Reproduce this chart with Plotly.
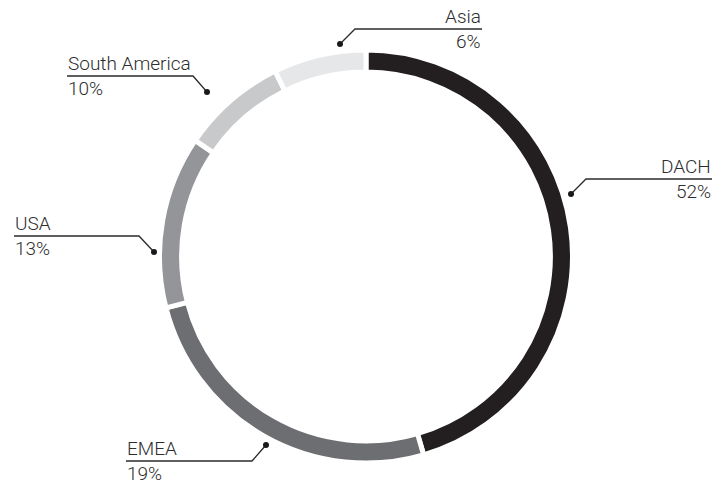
import plotly.graph_objects as go

W, H = 713, 484

# Data (slice sizes read from the drawn arcs; label shares as printed)
regions = ["DACH", "EMEA", "USA", "South America", "Asia"]
arc_values = [45.5, 25.5, 13.5, 8.25, 7.25]
shares = ["52%", "19%", "13%", "10%", "6%"]
colors = ["#231f20", "#6d6e71", "#939598", "#c8c9cb", "#e6e7e8"]

def px(x, y):
    """screen pixel -> paper coords"""
    return x / W, 1 - y / H

cx, cy, R = 366, 256.5, 206.5
x0, y1 = px(cx - R, cy - R)
x1, y0 = px(cx + R, cy + R)

fig = go.Figure(go.Pie(
    labels=regions,
    values=arc_values,
    sort=False,
    direction="clockwise",
    rotation=0,
    hole=0.893,
    textinfo="none",
    hoverinfo="label",
    marker=dict(colors=colors, line=dict(color="white", width=5)),
    domain=dict(x=[x0, x1], y=[y0, y1]),
    showlegend=False,
))

# leader line geometry (screen pixels): dot, elbow, end of horizontal, text alignment
callouts = {
    "Asia":          dict(dot=(340, 44), elbow=(355, 29), end=(482, 29), align="right"),
    "South America": dict(dot=(207, 92), elbow=(193, 76), end=(67, 76), align="left"),
    "DACH":          dict(dot=(571, 194), elbow=(586, 179), end=(712, 179), align="right"),
    "USA":           dict(dot=(154, 252), elbow=(139, 236), end=(14, 236), align="left"),
    "EMEA":          dict(dot=(266, 445), elbow=(252, 461), end=(126, 461), align="left"),
}

font = dict(family="Roboto, Liberation Sans, Arial", size=19, color="#2e2e2e", weight=300)
shapes, annotations = [], []
for name, share in zip(regions, shares):
    c = callouts[name]
    pts = [px(*c["dot"]), px(*c["elbow"]), px(*c["end"])]
    path = "M {} {} L {} {} L {} {}".format(*[v for p in pts for v in p])
    shapes.append(dict(type="path", path=path, xref="paper", yref="paper",
                       line=dict(color="#2b2b2b", width=1.3)))
    dx, dy = px(*c["dot"])
    r = 3 / W
    ry = 3 / H
    shapes.append(dict(type="circle", xref="paper", yref="paper",
                       x0=dx - r, x1=dx + r, y0=dy - ry, y1=dy + ry,
                       fillcolor="#1a1a1a", line=dict(width=0)))
    ex, ey = px(*c["end"])
    anchor = c["align"]
    annotations.append(dict(text=name, x=ex, y=ey, xref="paper", yref="paper",
                            xanchor=anchor, yanchor="bottom", showarrow=False,
                            font=font, borderpad=0))
    annotations.append(dict(text=share, x=ex, y=ey, xref="paper", yref="paper",
                            xanchor=anchor, yanchor="top", showarrow=False,
                            font=font, borderpad=0))

fig.update_layout(
    width=W, height=H,
    margin=dict(l=0, r=0, t=0, b=0),
    paper_bgcolor="white",
    plot_bgcolor="white",
    shapes=shapes,
    annotations=annotations,
)

fig.write_html(
    "out.html",
    config={"displayModeBar": False},
    post_script="document.body.style.margin='0';document.body.style.overflow='hidden';",
)
